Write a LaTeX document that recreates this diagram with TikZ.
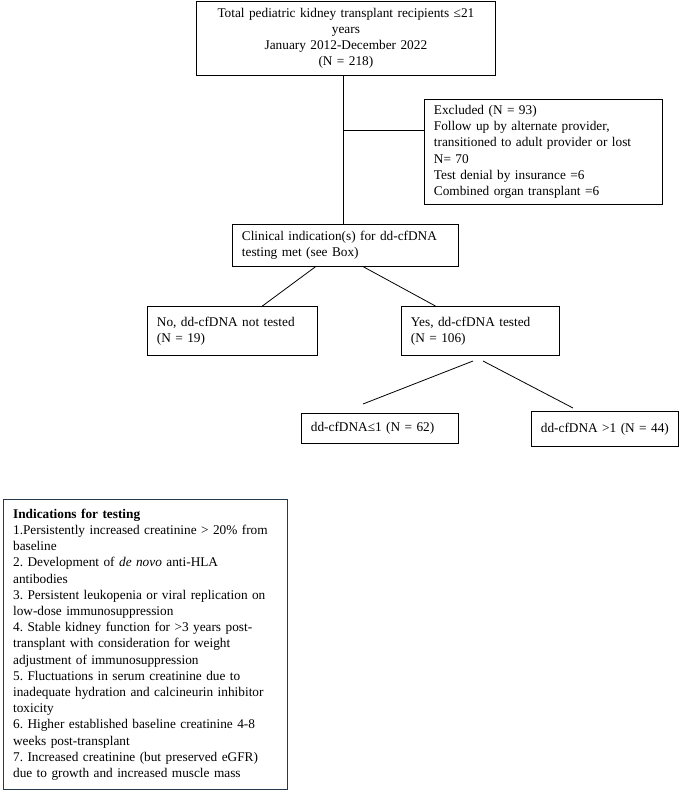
\documentclass[tikz,border=0pt]{standalone}
\usepackage{fontspec}
\setmainfont{Liberation Serif}
\usetikzlibrary{calc}
\definecolor{boxnavy}{RGB}{38,58,78}
\newcommand\oneline[1]{\mbox{#1}}
\tikzset{
  fbox/.style={draw, line width=0.8pt, anchor=north west, inner xsep=9.5pt, inner ysep=0pt, align=left, font=\fontsize{13.3}{16.2}\selectfont\frenchspacing},
  link/.style={line width=0.8pt}
}
\begin{document}
\begin{tikzpicture}[x=1pt,y=-1pt]
\fill[white] (0,0) rectangle (685,794);
\useasboundingbox (0,0) rectangle (685,794);

\node[fbox, align=center, text width=280pt, minimum height=74pt] (top) at (196,1)
  {\oneline{Total pediatric kidney transplant recipients ≤21}\\years\\January 2012-December 2022\\(N = 218)};

\node[fbox, text width=219pt, minimum height=105pt] (excl) at (424,99)
  {Excluded (N = 93)\\Follow up by alternate provider,\\\oneline{transitioned to adult provider or lost}\\N= 70\\Test denial by insurance =6\\Combined organ transplant =6};

\node[fbox, text width=207pt, minimum height=42pt] (clin) at (232,224)
  {Clinical indication(s) for dd-cfDNA\\testing met (see Box)};

\node[fbox, text width=151pt, minimum height=49pt] (no) at (147,306)
  {\oneline{No, dd-cfDNA not tested}\\(N = 19)};

\node[fbox, text width=139pt, minimum height=49pt] (yes) at (401,306)
  {\oneline{Yes, dd-cfDNA tested}\\(N = 106)};

\node[fbox, text width=138pt, minimum height=30pt] (le) at (301,413)
  {\oneline{dd-cfDNA≤1 (N = 62)}};

\node[fbox, text width=128pt, minimum height=35pt] (gt) at (531,411)
  {\oneline{dd-cfDNA >1 (N = 44)}};

\node[fbox, draw=boxnavy, line width=1.2pt, text width=265pt, minimum height=290pt] (ind) at (3,499)
  {\textbf{Indications for testing}\\
   \oneline{1.Persistently increased creatinine > 20\% from}\\
   baseline\\
   2. Development of \textit{de novo} anti-HLA\\
   antibodies\\
   \oneline{3. Persistent leukopenia or viral replication on}\\
   low-dose immunosuppression\\
   \oneline{4. Stable kidney function for >3 years post-}\\
   transplant with consideration for weight\\
   adjustment of immunosuppression\\
   \oneline{5. Fluctuations in serum creatinine due to}\\
   \oneline{inadequate hydration and calcineurin inhibitor}\\
   toxicity\\
   \oneline{6. Higher established baseline creatinine 4-8}\\
   weeks post-transplant\\
   \oneline{7. Increased creatinine (but preserved eGFR)}\\
   \oneline{due to growth and increased muscle mass}};

% connectors
\coordinate (v) at ($(top.south)+(-2.5,0)$);
\draw[link] (v) -- (v |- clin.north);
\coordinate (j) at ($(v)+(0,55)$);
\draw[link] (j) -- (j -| excl.west);

\draw[link] ($(clin.south)+(-30,0)$) -- ($(no.north)+(30,0)$);
\draw[link] ($(clin.south)+(18,0)$) -- ($(yes.north)+(-45,0)$);

\coordinate (s1) at (473,361);
\coordinate (e1) at (363,404);
\coordinate (s2) at (483,361);
\coordinate (e2) at (573,408);
\draw[link] (s1) -- (e1);
\draw[link] (s2) -- (e2);
\end{tikzpicture}
\end{document}
